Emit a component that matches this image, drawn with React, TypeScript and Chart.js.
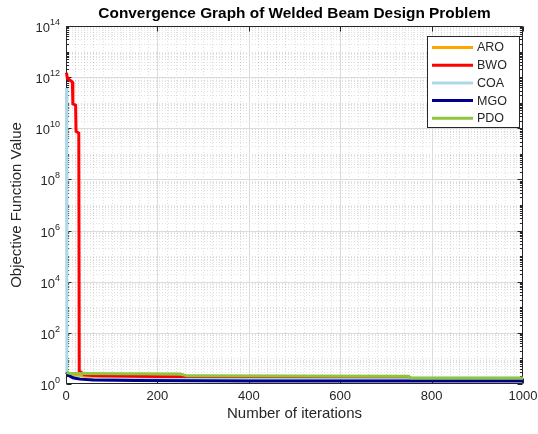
import React, { useEffect, useRef } from "react";
import { Chart, registerables } from "chart.js";

Chart.register(...registerables);

const TITLE = "Convergence Graph of Welded Beam Design Problem";
const X_LABEL = "Number of iterations";
const Y_LABEL = "Objective Function Value";

const xTicks = [0, 200, 400, 600, 800, 1000];
const yTickExponents = [0, 2, 4, 6, 8, 10, 12, 14];

const seriesNames = ["ARO", "BWO", "COA", "MGO", "PDO"];
const seriesColors = ["#FFA500", "#FF0000", "#ADD8E6", "#00008B", "#8DC63F"];

const aroIter = [1, 10, 40, 150, 400, 1000];
const aroVal = [3.0, 2.3, 1.9, 1.75, 1.65, 1.6];

const bwoIter = [1, 3, 14, 15, 21, 22, 28, 29, 40, 80, 250, 300, 600, 1000];
const bwoVal = [1.5e12, 9e11, 6.5e11, 9e10, 8e10, 7.5e9, 6.5e9, 3.2, 2.3, 2.0, 1.9, 1.72, 1.6, 1.57];

const coaIter = [1, 2, 10, 40, 200, 1000];
const coaVal = [3.8e11, 3.0, 1.9, 1.6, 1.5, 1.45];

const mgoIter = [1, 5, 15, 30, 60, 150, 400, 1000];
const mgoVal = [2.9, 2.2, 1.75, 1.55, 1.42, 1.37, 1.32, 1.3];

const pdoIter = [1, 10, 120, 250, 265, 750, 755, 1000];
const pdoVal = [2.8, 2.55, 2.5, 2.45, 2.08, 2.0, 1.72, 1.7];

const seriesIters = [aroIter, bwoIter, coaIter, mgoIter, pdoIter];
const seriesVals = [aroVal, bwoVal, coaVal, mgoVal, pdoVal];

const FONT = "'Liberation Sans', Arial, Helvetica, sans-serif";
const AXIS_COLOR = "#262626";

const decor = {
  id: "decor",
  beforeDatasetsDraw(chart: any) {
    const { ctx, chartArea: a, scales } = chart;
    const xs = scales.x;
    const ys = scales.y;
    ctx.save();
    ctx.beginPath();
    ctx.rect(a.left, a.top, a.right - a.left, a.bottom - a.top);
    ctx.clip();
    // minor grid (dotted)
    ctx.strokeStyle = "rgba(0,0,0,0.12)";
    ctx.lineWidth = 1;
    ctx.setLineDash([1, 2]);
    ctx.beginPath();
    for (let e = 0; e < 14; e++) {
      for (let m = 1; m <= 9; m++) {
        if (m === 1 && e % 2 === 0) continue;
        const py = Math.round(ys.getPixelForValue(m * Math.pow(10, e))) + 0.5;
        ctx.moveTo(a.left, py);
        ctx.lineTo(a.right, py);
      }
    }
    for (let v = 20; v < 1000; v += 20) {
      if (v % 200 === 0) continue;
      const px = Math.round(xs.getPixelForValue(v)) + 0.5;
      ctx.moveTo(px, a.top);
      ctx.lineTo(px, a.bottom);
    }
    ctx.stroke();
    // major grid
    ctx.setLineDash([]);
    ctx.strokeStyle = "#dcdcdc";
    ctx.beginPath();
    for (const e of yTickExponents) {
      const py = Math.round(ys.getPixelForValue(Math.pow(10, e))) + 0.5;
      ctx.moveTo(a.left, py);
      ctx.lineTo(a.right, py);
    }
    for (const t of xTicks) {
      const px = Math.round(xs.getPixelForValue(t)) + 0.5;
      ctx.moveTo(px, a.top);
      ctx.lineTo(px, a.bottom);
    }
    ctx.stroke();
    ctx.restore();

    // axes box + ticks (below data, like MATLAB Layer 'bottom')
    const L = Math.round(a.left) + 0.5;
    const R = Math.round(a.right) - 0.5;
    const T = Math.round(a.top) + 0.5;
    const B = Math.round(a.bottom) - 0.5;
    ctx.save();
    ctx.strokeStyle = AXIS_COLOR;
    ctx.lineWidth = 1;
    ctx.beginPath();
    ctx.rect(L, T, R - L, B - T);
    for (const t of xTicks) {
      const px = Math.round(xs.getPixelForValue(t)) + 0.5;
      ctx.moveTo(px, B);
      ctx.lineTo(px, B - 5);
      ctx.moveTo(px, T);
      ctx.lineTo(px, T + 5);
    }
    for (let e = 0; e <= 14; e++) {
      for (let m = 1; m <= 9; m++) {
        if (e === 14 && m > 1) break;
        const py = Math.round(ys.getPixelForValue(m * Math.pow(10, e))) + 0.5;
        const len = m === 1 && e % 2 === 0 ? 5 : 2.5;
        ctx.moveTo(L, py);
        ctx.lineTo(L + len, py);
        ctx.moveTo(R, py);
        ctx.lineTo(R - len, py);
      }
    }
    ctx.stroke();
    ctx.restore();
  },
  afterDatasetsDraw(chart: any) {
    const { ctx, chartArea: a, scales } = chart;
    const xs = scales.x;
    const ys = scales.y;
    ctx.save();
    // x tick labels
    ctx.fillStyle = AXIS_COLOR;
    ctx.font = `13px ${FONT}`;
    ctx.textAlign = "center";
    ctx.textBaseline = "top";
    for (const t of xTicks) {
      ctx.fillText(String(t), xs.getPixelForValue(t), a.bottom + 6);
    }
    // y tick labels with superscript
    for (const e of yTickExponents) {
      const py = ys.getPixelForValue(Math.pow(10, e));
      const exp = String(e);
      ctx.font = `9px ${FONT}`;
      const ew = ctx.measureText(exp).width;
      ctx.textAlign = "left";
      ctx.textBaseline = "alphabetic";
      const right = a.left - 6;
      ctx.fillText(exp, right - ew, py - 1);
      ctx.font = `13px ${FONT}`;
      ctx.textAlign = "right";
      ctx.fillText("10", right - ew, py + 6);
    }
    // axis labels
    ctx.font = `15px ${FONT}`;
    ctx.textAlign = "center";
    ctx.textBaseline = "middle";
    ctx.fillText(X_LABEL, (a.left + a.right) / 2, 414);
    ctx.save();
    ctx.translate(17, (a.top + a.bottom) / 2);
    ctx.rotate(-Math.PI / 2);
    ctx.fillText(Y_LABEL, 0, 0);
    ctx.restore();
    // title
    ctx.font = `bold 15.4px ${FONT}`;
    ctx.fillStyle = "#000";
    ctx.fillText(TITLE, (a.left + a.right) / 2, 14);

    // legend
    const bx = 427.5, by = 36.5, bw = 92, bh = 91;
    ctx.fillStyle = "#ffffff";
    ctx.fillRect(bx, by, bw, bh);
    ctx.strokeStyle = AXIS_COLOR;
    ctx.lineWidth = 1;
    ctx.strokeRect(bx, by, bw, bh);
    ctx.font = `12.5px ${FONT}`;
    ctx.textAlign = "left";
    ctx.textBaseline = "middle";
    chart.data.datasets.forEach((ds: any, i: number) => {
      const yy = 47.5 + i * 17.7;
      ctx.strokeStyle = ds.borderColor;
      ctx.lineWidth = 3;
      ctx.beginPath();
      ctx.moveTo(432, yy);
      ctx.lineTo(473, yy);
      ctx.stroke();
      ctx.fillStyle = AXIS_COLOR;
      ctx.fillText(ds.label, 477, yy + 0.5);
    });
    ctx.restore();
  },
};

export default function App() {
  const ref = useRef<HTMLCanvasElement | null>(null);
  useEffect(() => {
    document.body.style.margin = "0";
    if (!ref.current) return;
    const datasets = seriesNames.map((name, i) => ({
      label: name,
      data: seriesIters[i].map((x, j) => ({ x, y: seriesVals[i][j] })),
      borderColor: seriesColors[i],
      backgroundColor: seriesColors[i],
      borderWidth: 3,
      pointRadius: 0,
      tension: 0,
      fill: false,
      clip: 4,
      order: seriesNames.length - i,
    }));
    const chart = new Chart(ref.current, {
      type: "line",
      data: { datasets },
      options: {
        animation: false,
        responsive: false,
        devicePixelRatio: 1,
        layout: { padding: { left: 0, top: 26, right: 15, bottom: 0 } },
        plugins: {
          legend: { display: false },
          title: { display: false },
          tooltip: { enabled: false },
        },
        scales: {
          x: {
            type: "linear",
            min: 0,
            max: 1000,
            grid: { display: false },
            border: { display: false },
            ticks: { display: false, stepSize: 200 },
            afterFit: (s: any) => {
              s.height = 50;
            },
          },
          y: {
            type: "logarithmic",
            min: 1,
            max: 1e14,
            grid: { display: false },
            border: { display: false },
            ticks: { display: false },
            afterFit: (s: any) => {
              s.width = 66;
            },
          },
        },
      },
      plugins: [decor],
    } as any);
    return () => chart.destroy();
  }, []);
  return (
    <div style={{ width: 538, height: 434, background: "#fff" }}>
      <canvas ref={ref} width={538} height={434} style={{ display: "block" }} />
    </div>
  );
}
